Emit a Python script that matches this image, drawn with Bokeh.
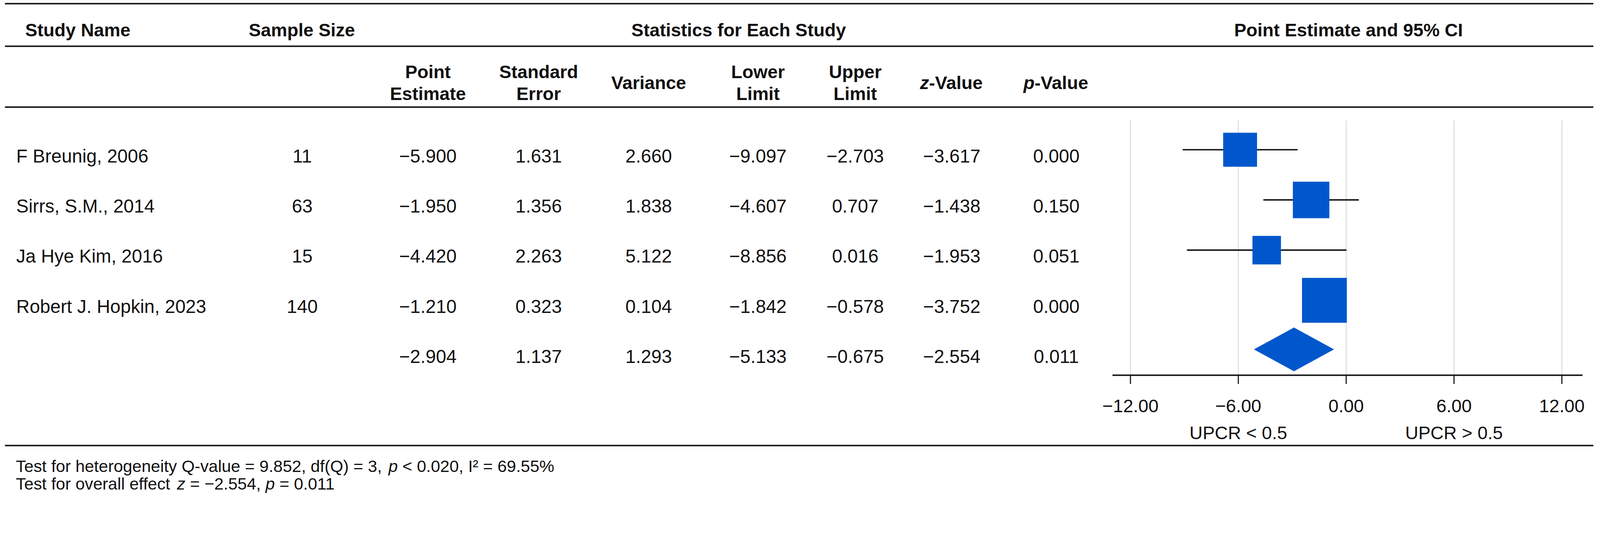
from math import sqrt
from bokeh.plotting import figure
from bokeh.models import Range1d
from bokeh.core.properties import value
from bokeh.embed import file_html
from bokeh.resources import INLINE

# ---------------- data ----------------
study_names = ["F Breunig, 2006", "Sirrs, S.M., 2014", "Ja Hye Kim, 2016", "Robert J. Hopkin, 2023"]
sample_sizes = [11, 63, 15, 140]
point_estimates = [-5.900, -1.950, -4.420, -1.210]
standard_errors = [1.631, 1.356, 2.263, 0.323]
variances = [2.660, 1.838, 5.122, 0.104]
lower_limits = [-9.097, -4.607, -8.856, -1.842]
upper_limits = [-2.703, 0.707, 0.016, -0.578]
z_values = [-3.617, -1.438, -1.953, -3.752]
p_values = [0.000, 0.150, 0.051, 0.000]

summary_estimate = -2.904
summary_se = 1.137
summary_variance = 1.293
summary_lower = -5.133
summary_upper = -0.675
summary_z = -2.554
summary_p = 0.011

q_value = 9.852
df_q = 3
i_squared = 69.55

axis_ticks = [-12, -6, 0, 6, 12]
axis_tick_labels = ["\u221212.00", "\u22126.00", "0.00", "6.00", "12.00"]
axis_extent = [-13.0, 13.15]
favours_at = [-6, 6]
favours_labels = ["UPCR < 0.5", "UPCR > 0.5"]

group_headers = ["Study Name", "Sample Size", "Statistics for Each Study", "Point Estimate and 95% CI"]

# ---------------- layout / style ----------------
# design coordinates are reference pixels minus the page margin; S scales them to the page
S = 0.9327
DW, DH = 4380, 1361
FONT = "Liberation Sans"
INK = "#111111"
BLUE = "#0057CC"
GRID = "#dedede"


def px(v):
    return f"{v * S:.2f}px"


BODY_SIZE = 51
HEAD_SIZE = 50
TICK_SIZE = 50
FOOT_SIZE = 46

RULES_Y = [9.5, 126.5, 293.5, 1222.5]
RULE_X0, RULE_X1 = 13, 4373
HEAD1_BASE = 82.5
HEAD2_TOP_BASE, HEAD2_BOT_BASE, HEAD2_MID_BASE = 196.5, 256.5, 226.5
ROW_BASE0, ROW_STEP = 427.5, 137.75
CAP_HALF = 17
NAME_X = 44
COL_X = [829, 1174, 1478, 1780, 2080, 2347, 2612, 2899]
HEAD1_X = [213, 828, 2027, 3701]
AXIS_Y = 1029.5
TICK_LEN = 24
GRID_TOP = 329.5
TICK_LABEL_BASE = 1114
FAVOURS_BASE = 1187.5
ZERO_PX, PX_PER_UNIT = 3694.5, 49.34
MAX_BOX = 123
DIAMOND_HALF = 60
FOOT_X = 43
FOOT_BASES = [1279, 1327]

# Arial / Liberation Sans advance widths (per 1000 em)
REG_W = {' ': 278, 'T': 611, 'e': 556, 's': 500, 't': 278, 'f': 278, 'o': 556, 'r': 333,
         'h': 556, 'g': 556, 'n': 556, 'i': 222, 'y': 500, 'Q': 778, '-': 333, 'v': 500,
         'a': 556, 'l': 222, 'u': 556, '=': 584, '.': 278, ',': 278, 'd': 556, '(': 333,
         ')': 333, 'p': 556, '<': 584, 'I': 278, '\u00b2': 333, '%': 889, 'z': 500,
         '\u2212': 584, 'c': 500}
BOLD_W = {'z': 500, 'p': 611, '-': 333, 'V': 667, 'a': 556, 'l': 278, 'u': 611, 'e': 556}


def tw(s, size, table=REG_W):
    return sum(table.get(ch, 556) for ch in s) * size / 1000.0


def fmt(v):
    return f"{v:.3f}".replace("-", "\u2212")


p = figure(width=round(DW * S), height=round(DH * S), output_backend="svg", toolbar_location=None,
           x_range=Range1d(0, DW), y_range=Range1d(DH, 0),
           x_axis_location=None, y_axis_location=None,
           min_border=0, outline_line_color=None)
p.grid.visible = False
p.background_fill_color = "white"
p.border_fill_color = "white"
p.extra_x_ranges = {"est": Range1d(-ZERO_PX / PX_PER_UNIT, (DW - ZERO_PX) / PX_PER_UNIT)}

common = dict(text_font=value(FONT), text_color=INK, text_baseline="alphabetic")

# ---------------- rules ----------------
p.segment(x0=[RULE_X0] * len(RULES_Y), x1=[RULE_X1] * len(RULES_Y), y0=RULES_Y, y1=RULES_Y,
          line_width=4 * S, line_color=INK)

# ---------------- headers ----------------
p.text(x=HEAD1_X, y=[HEAD1_BASE] * 4, text=group_headers, text_align="center",
       text_font_size=px(HEAD_SIZE), text_font_style="bold", **common)

two_line_cols = [1, 2, 4, 5]
two_line_top = ["Point", "Standard", "Lower", "Upper"]
two_line_bot = ["Estimate", "Error", "Limit", "Limit"]
p.text(x=[COL_X[c] for c in two_line_cols], y=[HEAD2_TOP_BASE] * 4, text=two_line_top,
       text_align="center", text_font_size=px(HEAD_SIZE), text_font_style="bold", **common)
p.text(x=[COL_X[c] for c in two_line_cols], y=[HEAD2_BOT_BASE] * 4, text=two_line_bot,
       text_align="center", text_font_size=px(HEAD_SIZE), text_font_style="bold", **common)
p.text(x=[COL_X[3]], y=[HEAD2_MID_BASE], text=["Variance"], text_align="center",
       text_font_size=px(HEAD_SIZE), text_font_style="bold", **common)

# z-Value / p-Value with italic letter
for col, letter in ((6, "z"), (7, "p")):
    rest = "-Value"
    total = tw(letter, HEAD_SIZE, BOLD_W) + tw(rest, HEAD_SIZE, BOLD_W)
    split = COL_X[col] - total / 2 + tw(letter, HEAD_SIZE, BOLD_W)
    p.text(x=[split], y=[HEAD2_MID_BASE], text=[letter], text_align="right",
           text_font_size=px(HEAD_SIZE), text_font_style="bold italic", **common)
    p.text(x=[split], y=[HEAD2_MID_BASE], text=[rest], text_align="left",
           text_font_size=px(HEAD_SIZE), text_font_style="bold", **common)

# ---------------- body rows ----------------
n = len(study_names)
row_base = [ROW_BASE0 + ROW_STEP * i for i in range(n + 1)]
row_mid = [b - CAP_HALF for b in row_base]

p.text(x=[NAME_X] * n, y=row_base[:n], text=study_names, text_align="left",
       text_font_size=px(BODY_SIZE), **common)

columns = [
    [str(s) for s in sample_sizes],
    [fmt(v) for v in point_estimates] + [fmt(summary_estimate)],
    [fmt(v) for v in standard_errors] + [fmt(summary_se)],
    [fmt(v) for v in variances] + [fmt(summary_variance)],
    [fmt(v) for v in lower_limits] + [fmt(summary_lower)],
    [fmt(v) for v in upper_limits] + [fmt(summary_upper)],
    [fmt(v) for v in z_values] + [fmt(summary_z)],
    [fmt(v) for v in p_values] + [fmt(summary_p)],
]
for cx, texts in zip(COL_X, columns):
    p.text(x=[cx] * len(texts), y=row_base[:len(texts)], text=texts, text_align="center",
           text_font_size=px(BODY_SIZE), **common)

# ---------------- forest plot ----------------
nt = len(axis_ticks)
p.segment(x0=axis_ticks, x1=axis_ticks, y0=[GRID_TOP] * nt, y1=[AXIS_Y] * nt,
          x_range_name="est", line_color=GRID, line_width=3 * S)

p.segment(x0=lower_limits, x1=upper_limits, y0=row_mid[:n], y1=row_mid[:n],
          x_range_name="est", line_color=INK, line_width=4 * S)

# random-effects weights -> box side proportional to sqrt(weight)
fw = [1.0 / v for v in variances]
c_val = sum(fw) - sum(w * w for w in fw) / sum(fw)
tau2 = max(0.0, (q_value - df_q) / c_val)
rw = [1.0 / (v + tau2) for v in variances]
sides = [MAX_BOX * S * sqrt(w / max(rw)) for w in rw]

p.rect(x=point_estimates, y=row_mid[:n], width=sides, height=sides,
       width_units="screen", height_units="screen", x_range_name="est",
       fill_color=BLUE, line_color=None)

yd = row_mid[n] - 3
p.patch(x=[summary_lower, summary_estimate, summary_upper, summary_estimate],
        y=[yd, yd - DIAMOND_HALF, yd, yd + DIAMOND_HALF],
        x_range_name="est", fill_color=BLUE, line_color=None)

# x axis: line, ticks and tick labels on the estimate scale
p.segment(x0=[axis_extent[0]], x1=[axis_extent[1]], y0=[AXIS_Y], y1=[AXIS_Y],
          x_range_name="est", line_color=INK, line_width=4 * S)
p.segment(x0=axis_ticks, x1=axis_ticks, y0=[AXIS_Y] * nt, y1=[AXIS_Y + TICK_LEN] * nt,
          x_range_name="est", line_color=INK, line_width=3 * S)
p.text(x=axis_ticks, y=[TICK_LABEL_BASE] * nt, text=axis_tick_labels,
       x_range_name="est", text_align="center", text_font_size=px(TICK_SIZE), **common)
p.text(x=favours_at, y=[FAVOURS_BASE] * len(favours_at), text=favours_labels,
       x_range_name="est", text_align="center", text_font_size=px(TICK_SIZE), **common)

# ---------------- footer ----------------
fs = px(FOOT_SIZE)
seg1 = "Test for heterogeneity Q-value = 9.852, df(Q) = 3, "
seg3 = " < 0.020, I\u00b2 = 69.55%"
x_p1 = FOOT_X + tw(seg1, FOOT_SIZE)
x_s3 = x_p1 + tw("p", FOOT_SIZE) + tw(" ", FOOT_SIZE)
p.text(x=[FOOT_X], y=[FOOT_BASES[0]], text=[seg1.strip()], text_align="left", text_font_size=fs, **common)
p.text(x=[x_p1], y=[FOOT_BASES[0]], text=["p"], text_align="left", text_font_size=fs,
       text_font_style="italic", **common)
p.text(x=[x_s3], y=[FOOT_BASES[0]], text=[seg3.strip()], text_align="left", text_font_size=fs, **common)

l2a = "Test for overall effect "
l2c = " = \u22122.554, "
l2e = " = 0.011"
x_z = FOOT_X + tw(l2a, FOOT_SIZE)
x_c = x_z + tw("z", FOOT_SIZE) + tw(" ", FOOT_SIZE)
x_p2 = x_z + tw("z", FOOT_SIZE) + tw(l2c, FOOT_SIZE)
x_e = x_p2 + tw("p", FOOT_SIZE) + tw(" ", FOOT_SIZE)
p.text(x=[FOOT_X], y=[FOOT_BASES[1]], text=[l2a.strip()], text_align="left", text_font_size=fs, **common)
p.text(x=[x_z, x_p2], y=[FOOT_BASES[1]] * 2, text=["z", "p"], text_align="left", text_font_size=fs,
       text_font_style="italic", **common)
p.text(x=[x_c, x_e], y=[FOOT_BASES[1]] * 2, text=[l2c.strip(), l2e.strip()], text_align="left",
       text_font_size=fs, **common)

open("out.html", "w").write(file_html(p, INLINE))
